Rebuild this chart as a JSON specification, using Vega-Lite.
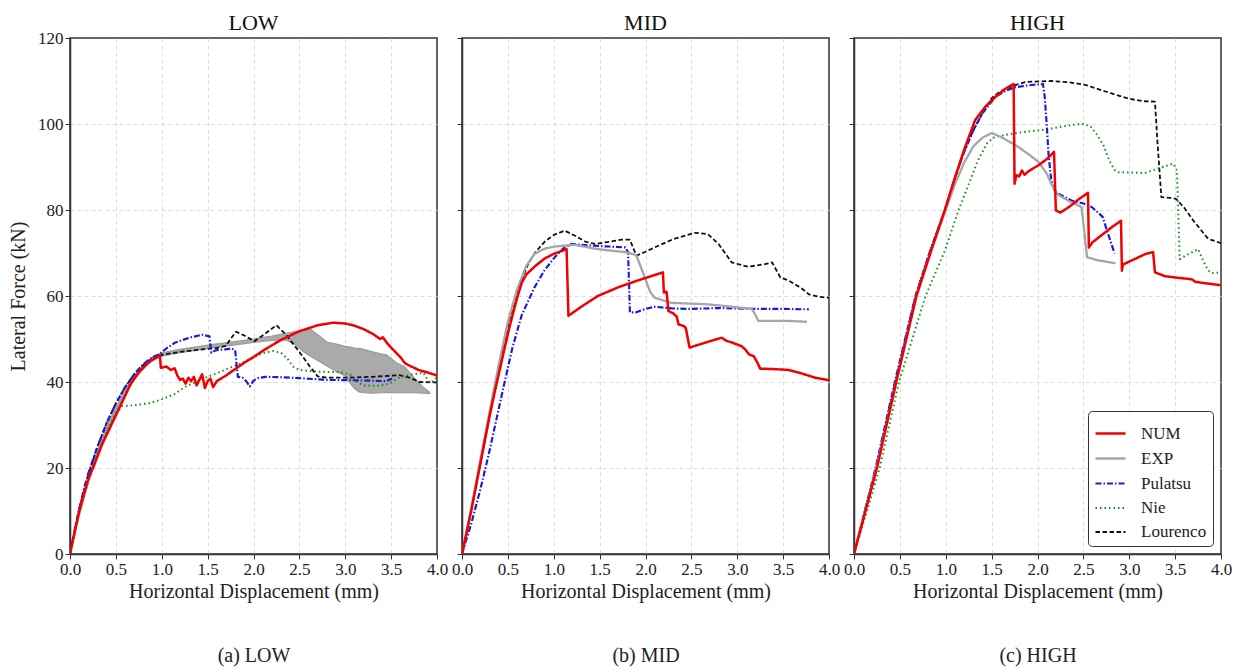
{
"$schema": "https://vega.github.io/schema/vega-lite/v6.json",
"padding": {"left": 7, "top": 10, "right": 10, "bottom": 5},
"background": "white",
"bounds": "flush",
"spacing": 25,
"config": {
  "font": "Liberation Serif",
  "view": {"stroke": "#333333", "strokeWidth": 1.5},
  "axis": {"domainColor": "#333333", "domainWidth": 1.5, "tickColor": "#333333", "tickSize": 5, "labelColor": "#222222", "titleColor": "#222222", "labelFont": "Liberation Serif", "titleFont": "Liberation Serif", "labelFontSize": 17, "titleFontSize": 20, "titleFontWeight": "normal", "gridColor": "#dcdcdc", "gridDash": [4, 3], "gridWidth": 1, "labelFlush": false, "labelOverlap": false},
  "title": {"font": "Liberation Serif", "fontSize": 22, "fontWeight": "normal", "color": "#111111", "offset": 3},
  "legend": {"labelFont": "Liberation Serif", "labelFontSize": 17, "labelColor": "#222222"}
},
"resolve": {"scale": {"color": "independent", "strokeDash": "independent", "strokeWidth": "independent"}, "legend": {"color": "independent", "strokeDash": "independent", "strokeWidth": "independent"}},
"datasets": {
"band": [
{"x":0,"lo":0,"hi":0},{"x":0.1,"lo":8.8,"hi":9.6},{"x":0.2,"lo":16.5,"hi":17.5},{"x":0.3,"lo":23,"hi":24},{"x":0.4,"lo":28.5,"hi":29.5},{"x":0.5,"lo":33,"hi":34},{"x":0.6,"lo":37,"hi":38},{"x":0.7,"lo":40.5,"hi":41.5},{"x":0.8,"lo":43,"hi":44},{"x":0.9,"lo":45,"hi":45.8},{"x":1.0,"lo":46,"hi":46.8},{"x":1.2,"lo":46.8,"hi":47.6},{"x":1.5,"lo":47.8,"hi":48.6},{"x":1.8,"lo":48.6,"hi":49.4},{"x":2.0,"lo":49.2,"hi":50},{"x":2.2,"lo":49.7,"hi":50.7},{"x":2.35,"lo":49.8,"hi":51.3},{"x":2.45,"lo":48.8,"hi":51.7},{"x":2.55,"lo":47,"hi":52},{"x":2.62,"lo":46,"hi":52.3},{"x":2.7,"lo":45,"hi":51},{"x":2.8,"lo":43.7,"hi":49.3},{"x":2.9,"lo":42.5,"hi":48.8},{"x":3.0,"lo":41.4,"hi":48.3},{"x":3.05,"lo":39.8,"hi":48.1},{"x":3.1,"lo":38.5,"hi":47.9},{"x":3.15,"lo":37.7,"hi":47.8},{"x":3.2,"lo":37.5,"hi":47.6},{"x":3.3,"lo":37.4,"hi":47},{"x":3.4,"lo":37.5,"hi":46.5},{"x":3.45,"lo":37.6,"hi":46.3},{"x":3.55,"lo":37.5,"hi":44.6},{"x":3.65,"lo":37.6,"hi":43.5},{"x":3.75,"lo":37.5,"hi":41},{"x":3.85,"lo":37.4,"hi":38.8},{"x":3.92,"lo":37.3,"hi":37.6}
],
"curves": [
{"panel":"LOW","series":"Lourenco","x":0,"y":0},{"panel":"LOW","series":"Lourenco","x":0.05,"y":5.2},{"panel":"LOW","series":"Lourenco","x":0.1,"y":10.2},{"panel":"LOW","series":"Lourenco","x":0.2,"y":18.5},{"panel":"LOW","series":"Lourenco","x":0.3,"y":25},{"panel":"LOW","series":"Lourenco","x":0.4,"y":30.5},{"panel":"LOW","series":"Lourenco","x":0.5,"y":35},{"panel":"LOW","series":"Lourenco","x":0.6,"y":38.8},{"panel":"LOW","series":"Lourenco","x":0.7,"y":41.8},{"panel":"LOW","series":"Lourenco","x":0.8,"y":44},{"panel":"LOW","series":"Lourenco","x":0.9,"y":45.5},{"panel":"LOW","series":"Lourenco","x":1.0,"y":46.3},{"panel":"LOW","series":"Lourenco","x":1.2,"y":47},{"panel":"LOW","series":"Lourenco","x":1.4,"y":47.5},{"panel":"LOW","series":"Lourenco","x":1.6,"y":47.9},{"panel":"LOW","series":"Lourenco","x":1.7,"y":48.4},{"panel":"LOW","series":"Lourenco","x":1.75,"y":50},{"panel":"LOW","series":"Lourenco","x":1.81,"y":51.7},{"panel":"LOW","series":"Lourenco","x":1.9,"y":50.8},{"panel":"LOW","series":"Lourenco","x":2.01,"y":49.5},{"panel":"LOW","series":"Lourenco","x":2.1,"y":50.8},{"panel":"LOW","series":"Lourenco","x":2.25,"y":53.2},{"panel":"LOW","series":"Lourenco","x":2.35,"y":51.1},{"panel":"LOW","series":"Lourenco","x":2.5,"y":47},{"panel":"LOW","series":"Lourenco","x":2.6,"y":44},{"panel":"LOW","series":"Lourenco","x":2.7,"y":41.3},{"panel":"LOW","series":"Lourenco","x":2.8,"y":41},{"panel":"LOW","series":"Lourenco","x":3.0,"y":41},{"panel":"LOW","series":"Lourenco","x":3.3,"y":41.2},{"panel":"LOW","series":"Lourenco","x":3.59,"y":41.6},{"panel":"LOW","series":"Lourenco","x":3.7,"y":41},{"panel":"LOW","series":"Lourenco","x":3.81,"y":40},{"panel":"LOW","series":"Lourenco","x":4.0,"y":39.9},
{"panel":"LOW","series":"Nie","x":0,"y":0},{"panel":"LOW","series":"Nie","x":0.05,"y":4.8},{"panel":"LOW","series":"Nie","x":0.1,"y":9.5},{"panel":"LOW","series":"Nie","x":0.2,"y":17},{"panel":"LOW","series":"Nie","x":0.3,"y":23},{"panel":"LOW","series":"Nie","x":0.4,"y":28.5},{"panel":"LOW","series":"Nie","x":0.5,"y":32.8},{"panel":"LOW","series":"Nie","x":0.57,"y":34.4},{"panel":"LOW","series":"Nie","x":0.7,"y":34.6},{"panel":"LOW","series":"Nie","x":0.85,"y":35},{"panel":"LOW","series":"Nie","x":0.95,"y":35.6},{"panel":"LOW","series":"Nie","x":1.05,"y":36.4},{"panel":"LOW","series":"Nie","x":1.14,"y":37.2},{"panel":"LOW","series":"Nie","x":1.25,"y":38.8},{"panel":"LOW","series":"Nie","x":1.4,"y":40.3},{"panel":"LOW","series":"Nie","x":1.5,"y":41.2},{"panel":"LOW","series":"Nie","x":1.61,"y":42.1},{"panel":"LOW","series":"Nie","x":1.75,"y":43.4},{"panel":"LOW","series":"Nie","x":1.87,"y":44.4},{"panel":"LOW","series":"Nie","x":2.0,"y":45.8},{"panel":"LOW","series":"Nie","x":2.1,"y":46.7},{"panel":"LOW","series":"Nie","x":2.21,"y":47.2},{"panel":"LOW","series":"Nie","x":2.3,"y":46.8},{"panel":"LOW","series":"Nie","x":2.37,"y":45.4},{"panel":"LOW","series":"Nie","x":2.43,"y":43.6},{"panel":"LOW","series":"Nie","x":2.5,"y":42.8},{"panel":"LOW","series":"Nie","x":2.7,"y":42.4},{"panel":"LOW","series":"Nie","x":2.94,"y":42.3},{"panel":"LOW","series":"Nie","x":3.05,"y":41.8},{"panel":"LOW","series":"Nie","x":3.12,"y":40.2},{"panel":"LOW","series":"Nie","x":3.2,"y":39.2},{"panel":"LOW","series":"Nie","x":3.35,"y":39.1},{"panel":"LOW","series":"Nie","x":3.48,"y":39.6},{"panel":"LOW","series":"Nie","x":3.6,"y":41.2},{"panel":"LOW","series":"Nie","x":3.7,"y":41.6},{"panel":"LOW","series":"Nie","x":3.85,"y":42.2},{"panel":"LOW","series":"Nie","x":3.92,"y":39.8},{"panel":"LOW","series":"Nie","x":3.96,"y":40.2},{"panel":"LOW","series":"Nie","x":4.0,"y":41.2},
{"panel":"LOW","series":"Pulatsu","x":0,"y":0},{"panel":"LOW","series":"Pulatsu","x":0.05,"y":5.5},{"panel":"LOW","series":"Pulatsu","x":0.1,"y":10.5},{"panel":"LOW","series":"Pulatsu","x":0.15,"y":15},{"panel":"LOW","series":"Pulatsu","x":0.2,"y":18.8},{"panel":"LOW","series":"Pulatsu","x":0.3,"y":25},{"panel":"LOW","series":"Pulatsu","x":0.4,"y":30.5},{"panel":"LOW","series":"Pulatsu","x":0.5,"y":35},{"panel":"LOW","series":"Pulatsu","x":0.6,"y":38.8},{"panel":"LOW","series":"Pulatsu","x":0.7,"y":41.8},{"panel":"LOW","series":"Pulatsu","x":0.8,"y":44.2},{"panel":"LOW","series":"Pulatsu","x":0.9,"y":45.8},{"panel":"LOW","series":"Pulatsu","x":0.97,"y":46.4},{"panel":"LOW","series":"Pulatsu","x":1.05,"y":47.8},{"panel":"LOW","series":"Pulatsu","x":1.15,"y":49.2},{"panel":"LOW","series":"Pulatsu","x":1.3,"y":50.3},{"panel":"LOW","series":"Pulatsu","x":1.44,"y":51},{"panel":"LOW","series":"Pulatsu","x":1.52,"y":50.6},{"panel":"LOW","series":"Pulatsu","x":1.54,"y":46.8},{"panel":"LOW","series":"Pulatsu","x":1.58,"y":47.3},{"panel":"LOW","series":"Pulatsu","x":1.62,"y":47.5},{"panel":"LOW","series":"Pulatsu","x":1.7,"y":47.6},{"panel":"LOW","series":"Pulatsu","x":1.76,"y":47.8},{"panel":"LOW","series":"Pulatsu","x":1.8,"y":47.4},{"panel":"LOW","series":"Pulatsu","x":1.83,"y":41.2},{"panel":"LOW","series":"Pulatsu","x":1.88,"y":41},{"panel":"LOW","series":"Pulatsu","x":1.92,"y":40.2},{"panel":"LOW","series":"Pulatsu","x":1.96,"y":39},{"panel":"LOW","series":"Pulatsu","x":2.0,"y":40.3},{"panel":"LOW","series":"Pulatsu","x":2.05,"y":40.9},{"panel":"LOW","series":"Pulatsu","x":2.13,"y":41.2},{"panel":"LOW","series":"Pulatsu","x":2.3,"y":41.1},{"panel":"LOW","series":"Pulatsu","x":2.5,"y":40.9},{"panel":"LOW","series":"Pulatsu","x":2.8,"y":40.5},{"panel":"LOW","series":"Pulatsu","x":3.1,"y":40.4},{"panel":"LOW","series":"Pulatsu","x":3.3,"y":40.3},{"panel":"LOW","series":"Pulatsu","x":3.45,"y":40.2},{"panel":"LOW","series":"Pulatsu","x":3.51,"y":40.8},
{"panel":"LOW","series":"NUM","x":0,"y":0},{"panel":"LOW","series":"NUM","x":0.05,"y":5},{"panel":"LOW","series":"NUM","x":0.1,"y":10},{"panel":"LOW","series":"NUM","x":0.15,"y":14},{"panel":"LOW","series":"NUM","x":0.2,"y":17.5},{"panel":"LOW","series":"NUM","x":0.26,"y":20.5},{"panel":"LOW","series":"NUM","x":0.35,"y":25.5},{"panel":"LOW","series":"NUM","x":0.45,"y":30},{"panel":"LOW","series":"NUM","x":0.55,"y":34.5},{"panel":"LOW","series":"NUM","x":0.66,"y":39.5},{"panel":"LOW","series":"NUM","x":0.75,"y":42.3},{"panel":"LOW","series":"NUM","x":0.85,"y":44.5},{"panel":"LOW","series":"NUM","x":0.98,"y":46.2},{"panel":"LOW","series":"NUM","x":0.99,"y":43.3},{"panel":"LOW","series":"NUM","x":1.05,"y":43.6},{"panel":"LOW","series":"NUM","x":1.1,"y":42.8},{"panel":"LOW","series":"NUM","x":1.14,"y":43.2},{"panel":"LOW","series":"NUM","x":1.17,"y":41.5},{"panel":"LOW","series":"NUM","x":1.2,"y":40.5},{"panel":"LOW","series":"NUM","x":1.23,"y":40.8},{"panel":"LOW","series":"NUM","x":1.26,"y":39.6},{"panel":"LOW","series":"NUM","x":1.29,"y":41},{"panel":"LOW","series":"NUM","x":1.32,"y":40.2},{"panel":"LOW","series":"NUM","x":1.35,"y":41.2},{"panel":"LOW","series":"NUM","x":1.38,"y":39.2},{"panel":"LOW","series":"NUM","x":1.41,"y":40.5},{"panel":"LOW","series":"NUM","x":1.44,"y":41.8},{"panel":"LOW","series":"NUM","x":1.47,"y":38.6},{"panel":"LOW","series":"NUM","x":1.5,"y":40.2},{"panel":"LOW","series":"NUM","x":1.53,"y":40.8},{"panel":"LOW","series":"NUM","x":1.56,"y":38.8},{"panel":"LOW","series":"NUM","x":1.6,"y":40.2},{"panel":"LOW","series":"NUM","x":1.7,"y":41.5},{"panel":"LOW","series":"NUM","x":1.8,"y":43},{"panel":"LOW","series":"NUM","x":1.9,"y":44.5},{"panel":"LOW","series":"NUM","x":2.0,"y":45.8},{"panel":"LOW","series":"NUM","x":2.12,"y":47.5},{"panel":"LOW","series":"NUM","x":2.3,"y":49.8},{"panel":"LOW","series":"NUM","x":2.5,"y":51.8},{"panel":"LOW","series":"NUM","x":2.7,"y":53.2},{"panel":"LOW","series":"NUM","x":2.87,"y":53.8},{"panel":"LOW","series":"NUM","x":3.0,"y":53.6},{"panel":"LOW","series":"NUM","x":3.1,"y":53.1},{"panel":"LOW","series":"NUM","x":3.2,"y":52.3},{"panel":"LOW","series":"NUM","x":3.3,"y":51.2},{"panel":"LOW","series":"NUM","x":3.38,"y":50},{"panel":"LOW","series":"NUM","x":3.41,"y":50.4},{"panel":"LOW","series":"NUM","x":3.45,"y":49.2},{"panel":"LOW","series":"NUM","x":3.5,"y":48},{"panel":"LOW","series":"NUM","x":3.6,"y":45.8},{"panel":"LOW","series":"NUM","x":3.65,"y":44.4},{"panel":"LOW","series":"NUM","x":3.7,"y":43.8},{"panel":"LOW","series":"NUM","x":3.8,"y":42.8},{"panel":"LOW","series":"NUM","x":3.9,"y":42.2},{"panel":"LOW","series":"NUM","x":4.0,"y":41.5},
{"panel":"MID","series":"Lourenco","x":0,"y":0},{"panel":"MID","series":"Lourenco","x":0.1,"y":10},{"panel":"MID","series":"Lourenco","x":0.2,"y":21},{"panel":"MID","series":"Lourenco","x":0.3,"y":32},{"panel":"MID","series":"Lourenco","x":0.4,"y":43},{"panel":"MID","series":"Lourenco","x":0.5,"y":53},{"panel":"MID","series":"Lourenco","x":0.6,"y":61},{"panel":"MID","series":"Lourenco","x":0.72,"y":67.4},{"panel":"MID","series":"Lourenco","x":0.8,"y":70.2},{"panel":"MID","series":"Lourenco","x":0.9,"y":72.6},{"panel":"MID","series":"Lourenco","x":1.0,"y":74.2},{"panel":"MID","series":"Lourenco","x":1.12,"y":75.2},{"panel":"MID","series":"Lourenco","x":1.25,"y":73.8},{"panel":"MID","series":"Lourenco","x":1.35,"y":72.6},{"panel":"MID","series":"Lourenco","x":1.45,"y":72.1},{"panel":"MID","series":"Lourenco","x":1.6,"y":72.6},{"panel":"MID","series":"Lourenco","x":1.74,"y":73.1},{"panel":"MID","series":"Lourenco","x":1.83,"y":73.1},{"panel":"MID","series":"Lourenco","x":1.9,"y":69.4},{"panel":"MID","series":"Lourenco","x":2.0,"y":70.3},{"panel":"MID","series":"Lourenco","x":2.1,"y":71.3},{"panel":"MID","series":"Lourenco","x":2.3,"y":73.2},{"panel":"MID","series":"Lourenco","x":2.54,"y":74.7},{"panel":"MID","series":"Lourenco","x":2.68,"y":74.4},{"panel":"MID","series":"Lourenco","x":2.8,"y":72},{"panel":"MID","series":"Lourenco","x":2.94,"y":67.8},{"panel":"MID","series":"Lourenco","x":3.12,"y":66.8},{"panel":"MID","series":"Lourenco","x":3.3,"y":67.4},{"panel":"MID","series":"Lourenco","x":3.38,"y":67.8},{"panel":"MID","series":"Lourenco","x":3.47,"y":64.3},{"panel":"MID","series":"Lourenco","x":3.56,"y":63.6},{"panel":"MID","series":"Lourenco","x":3.7,"y":61.8},{"panel":"MID","series":"Lourenco","x":3.78,"y":60.4},{"panel":"MID","series":"Lourenco","x":3.9,"y":59.8},{"panel":"MID","series":"Lourenco","x":4.0,"y":59.6},
{"panel":"MID","series":"Pulatsu","x":0,"y":0},{"panel":"MID","series":"Pulatsu","x":0.1,"y":7},{"panel":"MID","series":"Pulatsu","x":0.2,"y":15},{"panel":"MID","series":"Pulatsu","x":0.3,"y":24},{"panel":"MID","series":"Pulatsu","x":0.45,"y":38.6},{"panel":"MID","series":"Pulatsu","x":0.55,"y":48},{"panel":"MID","series":"Pulatsu","x":0.65,"y":55.5},{"panel":"MID","series":"Pulatsu","x":0.79,"y":62},{"panel":"MID","series":"Pulatsu","x":0.9,"y":66},{"panel":"MID","series":"Pulatsu","x":1.01,"y":69},{"panel":"MID","series":"Pulatsu","x":1.1,"y":71},{"panel":"MID","series":"Pulatsu","x":1.19,"y":72.1},{"panel":"MID","series":"Pulatsu","x":1.43,"y":71.7},{"panel":"MID","series":"Pulatsu","x":1.6,"y":71.5},{"panel":"MID","series":"Pulatsu","x":1.78,"y":71.3},{"panel":"MID","series":"Pulatsu","x":1.81,"y":70.2},{"panel":"MID","series":"Pulatsu","x":1.83,"y":56.2},{"panel":"MID","series":"Pulatsu","x":1.9,"y":56.2},{"panel":"MID","series":"Pulatsu","x":2.0,"y":57},{"panel":"MID","series":"Pulatsu","x":2.1,"y":57.5},{"panel":"MID","series":"Pulatsu","x":2.3,"y":57.1},{"panel":"MID","series":"Pulatsu","x":2.47,"y":57},{"panel":"MID","series":"Pulatsu","x":2.8,"y":57.2},{"panel":"MID","series":"Pulatsu","x":3.2,"y":57},{"panel":"MID","series":"Pulatsu","x":3.5,"y":57},{"panel":"MID","series":"Pulatsu","x":3.78,"y":56.9},
{"panel":"MID","series":"EXP","x":0,"y":0},{"panel":"MID","series":"EXP","x":0.1,"y":10.5},{"panel":"MID","series":"EXP","x":0.2,"y":22},{"panel":"MID","series":"EXP","x":0.3,"y":33},{"panel":"MID","series":"EXP","x":0.4,"y":44},{"panel":"MID","series":"EXP","x":0.5,"y":54},{"panel":"MID","series":"EXP","x":0.6,"y":61.5},{"panel":"MID","series":"EXP","x":0.7,"y":67},{"panel":"MID","series":"EXP","x":0.79,"y":69.8},{"panel":"MID","series":"EXP","x":0.9,"y":71},{"panel":"MID","series":"EXP","x":1.01,"y":71.5},{"panel":"MID","series":"EXP","x":1.23,"y":71.9},{"panel":"MID","series":"EXP","x":1.45,"y":71},{"panel":"MID","series":"EXP","x":1.6,"y":70.6},{"panel":"MID","series":"EXP","x":1.78,"y":70.2},{"panel":"MID","series":"EXP","x":1.9,"y":69.5},{"panel":"MID","series":"EXP","x":1.98,"y":65},{"panel":"MID","series":"EXP","x":2.05,"y":61},{"panel":"MID","series":"EXP","x":2.1,"y":59.6},{"panel":"MID","series":"EXP","x":2.28,"y":58.4},{"panel":"MID","series":"EXP","x":2.65,"y":58.1},{"panel":"MID","series":"EXP","x":2.9,"y":57.6},{"panel":"MID","series":"EXP","x":3.16,"y":57},{"panel":"MID","series":"EXP","x":3.2,"y":55.5},{"panel":"MID","series":"EXP","x":3.23,"y":54.2},{"panel":"MID","series":"EXP","x":3.56,"y":54.2},{"panel":"MID","series":"EXP","x":3.76,"y":54},
{"panel":"MID","series":"NUM","x":0,"y":0},{"panel":"MID","series":"NUM","x":0.1,"y":10},{"panel":"MID","series":"NUM","x":0.2,"y":21},{"panel":"MID","series":"NUM","x":0.3,"y":32},{"panel":"MID","series":"NUM","x":0.36,"y":38},{"panel":"MID","series":"NUM","x":0.45,"y":46.5},{"panel":"MID","series":"NUM","x":0.52,"y":53},{"panel":"MID","series":"NUM","x":0.6,"y":59.5},{"panel":"MID","series":"NUM","x":0.65,"y":63},{"panel":"MID","series":"NUM","x":0.7,"y":65},{"panel":"MID","series":"NUM","x":0.8,"y":67},{"panel":"MID","series":"NUM","x":0.9,"y":68.7},{"panel":"MID","series":"NUM","x":1.0,"y":69.8},{"panel":"MID","series":"NUM","x":1.14,"y":70.9},{"panel":"MID","series":"NUM","x":1.16,"y":55.4},{"panel":"MID","series":"NUM","x":1.3,"y":57.5},{"panel":"MID","series":"NUM","x":1.48,"y":60},{"panel":"MID","series":"NUM","x":1.7,"y":62},{"panel":"MID","series":"NUM","x":1.9,"y":63.5},{"panel":"MID","series":"NUM","x":2.19,"y":65.5},{"panel":"MID","series":"NUM","x":2.2,"y":60.8},{"panel":"MID","series":"NUM","x":2.23,"y":61},{"panel":"MID","series":"NUM","x":2.25,"y":56.5},{"panel":"MID","series":"NUM","x":2.3,"y":56},{"panel":"MID","series":"NUM","x":2.34,"y":55.2},{"panel":"MID","series":"NUM","x":2.36,"y":53.4},{"panel":"MID","series":"NUM","x":2.42,"y":53},{"panel":"MID","series":"NUM","x":2.44,"y":52.5},{"panel":"MID","series":"NUM","x":2.48,"y":48},{"panel":"MID","series":"NUM","x":2.6,"y":48.8},{"panel":"MID","series":"NUM","x":2.75,"y":49.8},{"panel":"MID","series":"NUM","x":2.83,"y":50.3},{"panel":"MID","series":"NUM","x":2.88,"y":49.6},{"panel":"MID","series":"NUM","x":2.94,"y":49.2},{"panel":"MID","series":"NUM","x":3.05,"y":48.3},{"panel":"MID","series":"NUM","x":3.09,"y":47.5},{"panel":"MID","series":"NUM","x":3.13,"y":46.4},{"panel":"MID","series":"NUM","x":3.18,"y":46},{"panel":"MID","series":"NUM","x":3.22,"y":44.5},{"panel":"MID","series":"NUM","x":3.25,"y":43.1},{"panel":"MID","series":"NUM","x":3.4,"y":43},{"panel":"MID","series":"NUM","x":3.56,"y":42.8},{"panel":"MID","series":"NUM","x":3.7,"y":42},{"panel":"MID","series":"NUM","x":3.85,"y":41},{"panel":"MID","series":"NUM","x":4.0,"y":40.4},
{"panel":"HIGH","series":"Lourenco","x":0,"y":0},{"panel":"HIGH","series":"Lourenco","x":0.25,"y":21},{"panel":"HIGH","series":"Lourenco","x":0.45,"y":40},{"panel":"HIGH","series":"Lourenco","x":0.67,"y":60},{"panel":"HIGH","series":"Lourenco","x":0.83,"y":70.5},{"panel":"HIGH","series":"Lourenco","x":0.99,"y":80},{"panel":"HIGH","series":"Lourenco","x":1.1,"y":87.5},{"panel":"HIGH","series":"Lourenco","x":1.2,"y":93.5},{"panel":"HIGH","series":"Lourenco","x":1.3,"y":98.5},{"panel":"HIGH","series":"Lourenco","x":1.4,"y":102.5},{"panel":"HIGH","series":"Lourenco","x":1.5,"y":106},{"panel":"HIGH","series":"Lourenco","x":1.6,"y":107.7},{"panel":"HIGH","series":"Lourenco","x":1.75,"y":109},{"panel":"HIGH","series":"Lourenco","x":1.88,"y":109.8},{"panel":"HIGH","series":"Lourenco","x":2.15,"y":110},{"panel":"HIGH","series":"Lourenco","x":2.35,"y":109.7},{"panel":"HIGH","series":"Lourenco","x":2.52,"y":109.1},{"panel":"HIGH","series":"Lourenco","x":2.75,"y":107.5},{"panel":"HIGH","series":"Lourenco","x":2.99,"y":105.9},{"panel":"HIGH","series":"Lourenco","x":3.15,"y":105.3},{"panel":"HIGH","series":"Lourenco","x":3.28,"y":105.2},{"panel":"HIGH","series":"Lourenco","x":3.31,"y":95},{"panel":"HIGH","series":"Lourenco","x":3.35,"y":83},{"panel":"HIGH","series":"Lourenco","x":3.45,"y":82.8},{"panel":"HIGH","series":"Lourenco","x":3.51,"y":82.6},{"panel":"HIGH","series":"Lourenco","x":3.6,"y":80.5},{"panel":"HIGH","series":"Lourenco","x":3.7,"y":77.5},{"panel":"HIGH","series":"Lourenco","x":3.86,"y":73.3},{"panel":"HIGH","series":"Lourenco","x":4.0,"y":72.3},
{"panel":"HIGH","series":"Nie","x":0,"y":0},{"panel":"HIGH","series":"Nie","x":0.1,"y":7},{"panel":"HIGH","series":"Nie","x":0.28,"y":20},{"panel":"HIGH","series":"Nie","x":0.49,"y":40},{"panel":"HIGH","series":"Nie","x":0.78,"y":60},{"panel":"HIGH","series":"Nie","x":0.99,"y":70.5},{"panel":"HIGH","series":"Nie","x":1.14,"y":80},{"panel":"HIGH","series":"Nie","x":1.25,"y":86},{"panel":"HIGH","series":"Nie","x":1.35,"y":91.5},{"panel":"HIGH","series":"Nie","x":1.45,"y":95.5},{"panel":"HIGH","series":"Nie","x":1.52,"y":96.8},{"panel":"HIGH","series":"Nie","x":1.6,"y":97.3},{"panel":"HIGH","series":"Nie","x":1.8,"y":98},{"panel":"HIGH","series":"Nie","x":2.08,"y":98.7},{"panel":"HIGH","series":"Nie","x":2.3,"y":99.5},{"panel":"HIGH","series":"Nie","x":2.48,"y":100.1},{"panel":"HIGH","series":"Nie","x":2.58,"y":99.4},{"panel":"HIGH","series":"Nie","x":2.65,"y":97.5},{"panel":"HIGH","series":"Nie","x":2.72,"y":95},{"panel":"HIGH","series":"Nie","x":2.78,"y":91.6},{"panel":"HIGH","series":"Nie","x":2.84,"y":89.3},{"panel":"HIGH","series":"Nie","x":2.88,"y":88.8},{"panel":"HIGH","series":"Nie","x":3.17,"y":88.6},{"panel":"HIGH","series":"Nie","x":3.31,"y":89.6},{"panel":"HIGH","series":"Nie","x":3.48,"y":90.8},{"panel":"HIGH","series":"Nie","x":3.52,"y":89.2},{"panel":"HIGH","series":"Nie","x":3.55,"y":68.6},{"panel":"HIGH","series":"Nie","x":3.65,"y":69.8},{"panel":"HIGH","series":"Nie","x":3.75,"y":70.9},{"panel":"HIGH","series":"Nie","x":3.81,"y":68},{"panel":"HIGH","series":"Nie","x":3.86,"y":66},{"panel":"HIGH","series":"Nie","x":3.9,"y":65.3},{"panel":"HIGH","series":"Nie","x":4.0,"y":65.5},
{"panel":"HIGH","series":"Pulatsu","x":0,"y":0},{"panel":"HIGH","series":"Pulatsu","x":0.24,"y":20.5},{"panel":"HIGH","series":"Pulatsu","x":0.45,"y":40.5},{"panel":"HIGH","series":"Pulatsu","x":0.67,"y":60},{"panel":"HIGH","series":"Pulatsu","x":0.83,"y":70.5},{"panel":"HIGH","series":"Pulatsu","x":1.0,"y":80.5},{"panel":"HIGH","series":"Pulatsu","x":1.1,"y":87.5},{"panel":"HIGH","series":"Pulatsu","x":1.2,"y":93.5},{"panel":"HIGH","series":"Pulatsu","x":1.3,"y":98.5},{"panel":"HIGH","series":"Pulatsu","x":1.4,"y":102.5},{"panel":"HIGH","series":"Pulatsu","x":1.54,"y":106.3},{"panel":"HIGH","series":"Pulatsu","x":1.65,"y":107.7},{"panel":"HIGH","series":"Pulatsu","x":1.75,"y":108.5},{"panel":"HIGH","series":"Pulatsu","x":1.9,"y":109},{"panel":"HIGH","series":"Pulatsu","x":2.06,"y":109.3},{"panel":"HIGH","series":"Pulatsu","x":2.08,"y":106},{"panel":"HIGH","series":"Pulatsu","x":2.1,"y":100},{"panel":"HIGH","series":"Pulatsu","x":2.12,"y":93},{"panel":"HIGH","series":"Pulatsu","x":2.15,"y":86.9},{"panel":"HIGH","series":"Pulatsu","x":2.19,"y":84.2},{"panel":"HIGH","series":"Pulatsu","x":2.28,"y":83.2},{"panel":"HIGH","series":"Pulatsu","x":2.37,"y":82.2},{"panel":"HIGH","series":"Pulatsu","x":2.5,"y":81.5},{"panel":"HIGH","series":"Pulatsu","x":2.59,"y":80.7},{"panel":"HIGH","series":"Pulatsu","x":2.65,"y":79.6},{"panel":"HIGH","series":"Pulatsu","x":2.71,"y":78.4},{"panel":"HIGH","series":"Pulatsu","x":2.77,"y":74.4},{"panel":"HIGH","series":"Pulatsu","x":2.84,"y":69.9},
{"panel":"HIGH","series":"EXP","x":0,"y":0},{"panel":"HIGH","series":"EXP","x":0.25,"y":20.5},{"panel":"HIGH","series":"EXP","x":0.46,"y":40},{"panel":"HIGH","series":"EXP","x":0.68,"y":60},{"panel":"HIGH","series":"EXP","x":0.84,"y":70.5},{"panel":"HIGH","series":"EXP","x":1.0,"y":80},{"panel":"HIGH","series":"EXP","x":1.1,"y":86},{"panel":"HIGH","series":"EXP","x":1.2,"y":91},{"panel":"HIGH","series":"EXP","x":1.3,"y":94.8},{"panel":"HIGH","series":"EXP","x":1.4,"y":96.8},{"panel":"HIGH","series":"EXP","x":1.5,"y":97.9},{"panel":"HIGH","series":"EXP","x":1.6,"y":97},{"panel":"HIGH","series":"EXP","x":1.76,"y":95.1},{"panel":"HIGH","series":"EXP","x":1.9,"y":93},{"panel":"HIGH","series":"EXP","x":2.01,"y":91.2},{"panel":"HIGH","series":"EXP","x":2.1,"y":88.5},{"panel":"HIGH","series":"EXP","x":2.15,"y":86.1},{"panel":"HIGH","series":"EXP","x":2.22,"y":83.6},{"panel":"HIGH","series":"EXP","x":2.35,"y":82},{"panel":"HIGH","series":"EXP","x":2.48,"y":80.7},{"panel":"HIGH","series":"EXP","x":2.51,"y":75},{"panel":"HIGH","series":"EXP","x":2.54,"y":69},{"panel":"HIGH","series":"EXP","x":2.66,"y":68.3},{"panel":"HIGH","series":"EXP","x":2.85,"y":67.6},
{"panel":"HIGH","series":"NUM","x":0,"y":0},{"panel":"HIGH","series":"NUM","x":0.25,"y":20},{"panel":"HIGH","series":"NUM","x":0.46,"y":40},{"panel":"HIGH","series":"NUM","x":0.68,"y":60},{"panel":"HIGH","series":"NUM","x":0.84,"y":70.5},{"panel":"HIGH","series":"NUM","x":0.99,"y":80},{"panel":"HIGH","series":"NUM","x":1.1,"y":87.5},{"panel":"HIGH","series":"NUM","x":1.2,"y":94},{"panel":"HIGH","series":"NUM","x":1.32,"y":100.9},{"panel":"HIGH","series":"NUM","x":1.43,"y":104},{"panel":"HIGH","series":"NUM","x":1.55,"y":106.5},{"panel":"HIGH","series":"NUM","x":1.65,"y":108.2},{"panel":"HIGH","series":"NUM","x":1.74,"y":109.3},{"panel":"HIGH","series":"NUM","x":1.75,"y":86.1},{"panel":"HIGH","series":"NUM","x":1.77,"y":88.1},{"panel":"HIGH","series":"NUM","x":1.8,"y":87.8},{"panel":"HIGH","series":"NUM","x":1.83,"y":89.2},{"panel":"HIGH","series":"NUM","x":1.86,"y":88.2},{"panel":"HIGH","series":"NUM","x":1.9,"y":89},{"panel":"HIGH","series":"NUM","x":2.01,"y":90.4},{"panel":"HIGH","series":"NUM","x":2.1,"y":91.8},{"panel":"HIGH","series":"NUM","x":2.18,"y":93.5},{"panel":"HIGH","series":"NUM","x":2.2,"y":79.9},{"panel":"HIGH","series":"NUM","x":2.25,"y":79.4},{"panel":"HIGH","series":"NUM","x":2.35,"y":80.8},{"panel":"HIGH","series":"NUM","x":2.45,"y":82.5},{"panel":"HIGH","series":"NUM","x":2.55,"y":84},{"panel":"HIGH","series":"NUM","x":2.56,"y":71.3},{"panel":"HIGH","series":"NUM","x":2.6,"y":72.5},{"panel":"HIGH","series":"NUM","x":2.66,"y":73.5},{"panel":"HIGH","series":"NUM","x":2.75,"y":75},{"panel":"HIGH","series":"NUM","x":2.81,"y":76},{"panel":"HIGH","series":"NUM","x":2.91,"y":77.5},{"panel":"HIGH","series":"NUM","x":2.92,"y":65.9},{"panel":"HIGH","series":"NUM","x":2.93,"y":67.3},{"panel":"HIGH","series":"NUM","x":3.0,"y":68},{"panel":"HIGH","series":"NUM","x":3.1,"y":69},{"panel":"HIGH","series":"NUM","x":3.18,"y":69.8},{"panel":"HIGH","series":"NUM","x":3.26,"y":70.2},{"panel":"HIGH","series":"NUM","x":3.28,"y":65.5},{"panel":"HIGH","series":"NUM","x":3.39,"y":64.6},{"panel":"HIGH","series":"NUM","x":3.5,"y":64.3},{"panel":"HIGH","series":"NUM","x":3.68,"y":63.9},{"panel":"HIGH","series":"NUM","x":3.72,"y":63.3},{"panel":"HIGH","series":"NUM","x":3.85,"y":62.9},{"panel":"HIGH","series":"NUM","x":4.0,"y":62.5}
]
},
"hconcat": [
{
 "width": 367, "height": 516,
 "title": {"text": "LOW", "offset": -6},
 "layer": [
  {"data": {"name": "band"},
   "mark": {"type": "area", "fill": "#aaaaaa", "stroke": "#9a9a9a", "strokeWidth": 1.2, "opacity": 1},
   "encoding": {
    "x": {"field": "x", "type": "quantitative", "scale": {"domain": [0, 4], "nice": false, "zero": false}, "axis": {"values": [0,0.5,1,1.5,2,2.5,3,3.5,4], "format": ".1f", "grid": true, "gridOpacity": {"condition": {"test": "datum.value === 0 || datum.value === 4", "value": 0}, "value": 1}, "title": ["Horizontal Displacement (mm)", "(a) LOW"], "titleLineHeight": 64, "titlePadding": 4}},
    "y": {"field": "lo", "type": "quantitative", "scale": {"domain": [0, 120], "nice": false}, "axis": {"values": [0,20,40,60,80,100,120], "grid": true, "gridOpacity": {"condition": {"test": "datum.value === 0 || datum.value === 120", "value": 0}, "value": 1}, "title": "Lateral Force (kN)", "titleFontSize": 20, "titlePadding": 9}},
    "y2": {"field": "hi"}
   }},
  {"data": {"name": "curves"},
   "transform": [{"filter": "datum.panel === 'LOW'"}],
   "mark": {"type": "line", "clip": true, "strokeJoin": "round"},
   "encoding": {
    "x": {"field": "x", "type": "quantitative"},
    "y": {"field": "y", "type": "quantitative"},
    "color": {"field": "series", "type": "nominal", "scale": {"domain": ["NUM","EXP","Pulatsu","Nie","Lourenco"], "range": ["#f00000","#a6a6a6","#1a1adc","#168a16","#111111"]}, "legend": null},
    "strokeDash": {"field": "series", "type": "nominal", "scale": {"domain": ["NUM","EXP","Pulatsu","Nie","Lourenco"], "range": [[1,0],[1,0],[6,2,1.5,2],[1.5,3],[4.5,2.5]]}, "legend": null},
    "strokeWidth": {"field": "series", "type": "nominal", "scale": {"domain": ["NUM","EXP","Pulatsu","Nie","Lourenco"], "range": [2.5,1.8,1.4,2,1.4]}, "legend": null}
   }}
 ]
},
{
 "width": 367, "height": 516,
 "title": {"text": "MID", "offset": 3},
 "data": {"name": "curves"},
 "transform": [{"filter": "datum.panel === 'MID'"}],
 "mark": {"type": "line", "clip": true, "strokeJoin": "round"},
 "encoding": {
  "x": {"field": "x", "type": "quantitative", "scale": {"domain": [0, 4], "nice": false, "zero": false}, "axis": {"values": [0,0.5,1,1.5,2,2.5,3,3.5,4], "format": ".1f", "grid": true, "gridOpacity": {"condition": {"test": "datum.value === 0 || datum.value === 4", "value": 0}, "value": 1}, "title": ["Horizontal Displacement (mm)", "(b) MID"], "titleLineHeight": 64, "titlePadding": 4}},
  "y": {"field": "y", "type": "quantitative", "scale": {"domain": [0, 120], "nice": false}, "axis": {"values": [0,20,40,60,80,100,120], "grid": true, "gridOpacity": {"condition": {"test": "datum.value === 0 || datum.value === 120", "value": 0}, "value": 1}, "labels": false, "title": null}},
  "color": {"field": "series", "type": "nominal", "scale": {"domain": ["NUM","EXP","Pulatsu","Nie","Lourenco"], "range": ["#f00000","#a6a6a6","#1a1adc","#168a16","#111111"]}, "legend": null},
  "strokeDash": {"field": "series", "type": "nominal", "scale": {"domain": ["NUM","EXP","Pulatsu","Nie","Lourenco"], "range": [[1,0],[1,0],[6,2,1.5,2],[1.5,3],[4.5,2.5]]}, "legend": null},
  "strokeWidth": {"field": "series", "type": "nominal", "scale": {"domain": ["NUM","EXP","Pulatsu","Nie","Lourenco"], "range": [2.5,1.8,1.4,2,1.4]}, "legend": null}
 }
},
{
 "width": 367, "height": 516,
 "title": {"text": "HIGH", "offset": 3},
 "data": {"name": "curves"},
 "transform": [{"filter": "datum.panel === 'HIGH'"}],
 "mark": {"type": "line", "clip": true, "strokeJoin": "round"},
 "encoding": {
  "x": {"field": "x", "type": "quantitative", "scale": {"domain": [0, 4], "nice": false, "zero": false}, "axis": {"values": [0,0.5,1,1.5,2,2.5,3,3.5,4], "format": ".1f", "grid": true, "gridOpacity": {"condition": {"test": "datum.value === 0 || datum.value === 4", "value": 0}, "value": 1}, "title": ["Horizontal Displacement (mm)", "(c) HIGH"], "titleLineHeight": 64, "titlePadding": 4}},
  "y": {"field": "y", "type": "quantitative", "scale": {"domain": [0, 120], "nice": false}, "axis": {"values": [0,20,40,60,80,100,120], "grid": true, "gridOpacity": {"condition": {"test": "datum.value === 0 || datum.value === 120", "value": 0}, "value": 1}, "labels": false, "title": null}},
  "color": {"field": "series", "type": "nominal", "scale": {"domain": ["NUM","EXP","Pulatsu","Nie","Lourenco"], "range": ["#f00000","#a6a6a6","#1a1adc","#168a16","#111111"]}, "legend": {"title": null, "orient": "bottom-right", "offset": 8, "symbolType": "stroke", "symbolSize": 900, "rowPadding": 0, "padding": 6, "strokeColor": "#333333", "fillColor": "white", "cornerRadius": 4, "labelOffset": 14}},
  "strokeDash": {"field": "series", "type": "nominal", "scale": {"domain": ["NUM","EXP","Pulatsu","Nie","Lourenco"], "range": [[1,0],[1,0],[6,2,1.5,2],[1.5,3],[4.5,2.5]]}, "legend": {"title": null, "orient": "bottom-right", "offset": 8, "symbolType": "stroke", "symbolSize": 900, "rowPadding": 0, "padding": 6, "strokeColor": "#333333", "fillColor": "white", "cornerRadius": 4, "labelOffset": 14}},
  "strokeWidth": {"field": "series", "type": "nominal", "scale": {"domain": ["NUM","EXP","Pulatsu","Nie","Lourenco"], "range": [2.5,1.8,1.4,2,1.4]}, "legend": {"title": null, "orient": "bottom-right", "offset": 8, "symbolType": "stroke", "symbolSize": 900, "rowPadding": 0, "padding": 6, "strokeColor": "#333333", "fillColor": "white", "cornerRadius": 4, "labelOffset": 14}}
 }
}
]
}
